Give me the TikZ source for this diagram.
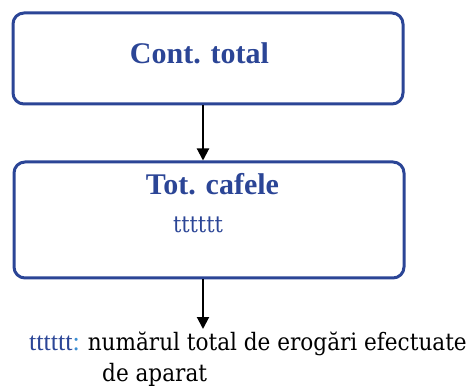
\documentclass[tikz,border=0pt]{standalone}
\usepackage{fontspec}
\setmainfont{Liberation Serif}
\newfontfamily\notefont{DejaVu Serif Condensed}
\usepackage{tikz}
\usepackage{xcolor}
\usetikzlibrary{arrows.meta,positioning}
\definecolor{boxblue}{HTML}{2B4596}
\definecolor{colonblue}{HTML}{3A8FD3}

\begin{document}
\begin{tikzpicture}[
    x=1pt, y=-1pt,
    node distance=55pt,
    block/.style={
        rectangle,
        rounded corners=11pt,
        draw=boxblue,
        line width=3pt,
        minimum width=390pt,
        inner sep=0pt
    },
    title/.style={
        text=boxblue,
        font=\bfseries\fontsize{30}{34}\selectfont,
        inner sep=0pt,
        anchor=base
    },
    flowarrow/.style={line width=2pt,-{Triangle[width=12pt,length=12pt]}}
]
\useasboundingbox (0,0) rectangle (471,387);
\node (total) [block, minimum height=91pt] at (208,58.5) {};
\node (totaltext) [title] at (199.5,64) {Cont. total};
\node (cafele) [block, minimum height=116pt, below=of total, xshift=1pt] {};
\node (cafeletext) [title] at (212.5,195) {Tot. cafele};
\node (var) [text=boxblue, font=\notefont\fontsize{23}{26}\selectfont,
    inner sep=0pt, anchor=base] at (198,233) {tttttt};
\coordinate (arrowtop) at (total.south -| 203,0);
\coordinate (arrowmid) at (cafele.north -| 203,0);
\coordinate (arrowlow) at (cafele.south -| 203,0);
\coordinate (arrowend) at (203,329);
% the base anchor of a two-line node sits on its last line
\node (note) [font=\notefont\fontsize{24}{31}\selectfont, align=left,
    inner sep=0pt, anchor=base west] at (29,381)
    {{\rmfamily\fontsize{26}{31}\selectfont\textcolor{boxblue}{tttttt}\textcolor{colonblue}{:}}\hspace{8pt}numărul total de erogări efectuate\\
     \hspace*{73pt}de aparat};
\draw [flowarrow] (arrowtop) -- (arrowmid);
\draw [flowarrow] (arrowlow) -- (arrowend);
\end{tikzpicture}
\end{document}
